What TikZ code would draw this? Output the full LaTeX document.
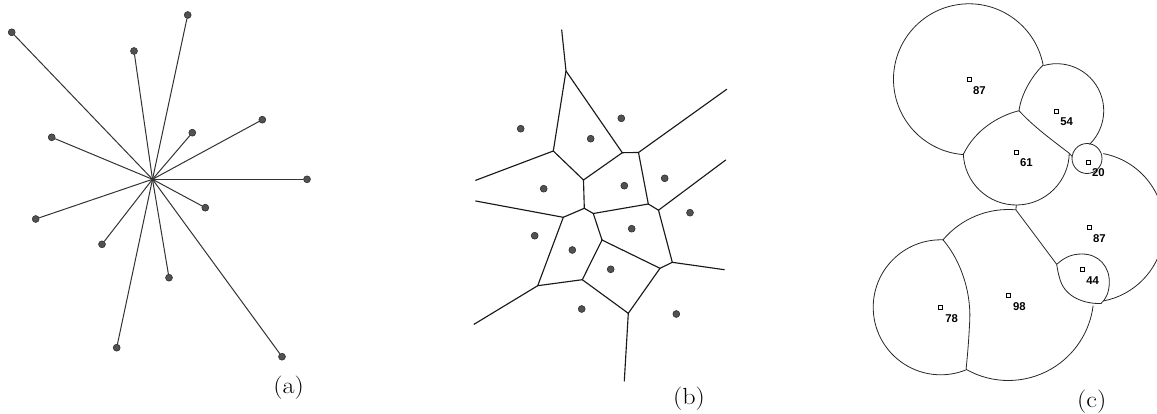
\documentclass[tikz,border=0pt]{standalone}
\usepackage{fontspec}
\usepackage{graphicx}
\newfontfamily\numfont{Liberation Sans}
\usetikzlibrary{calc}
\begin{document}
\begin{tikzpicture}[x=0.75pt,y=-0.75pt,
  spoke/.style={draw=black!80, line width=0.75pt},
  edge/.style={draw=black!90, line width=0.85pt, line cap=round},
  dot/.style={circle, fill=black!68, draw=black!85, line width=0.4pt, minimum size=5.2pt, inner sep=0pt},
  cell/.style={draw=black!85, line width=0.6pt},
  marker/.style={rectangle, draw=black, line width=0.45pt, fill=white, minimum size=3pt, inner sep=0pt},
  num/.style={font=\numfont\bfseries\fontsize{8.5}{10}\selectfont, inner sep=0pt},
  caption/.style={font=\fontsize{17.5}{20}\selectfont, inner sep=0pt}]
\useasboundingbox (0,0) rectangle (1157,414);
\clip (0,0) rectangle (1157,414);

% ---------------- (a) star ----------------
\coordinate (a0) at (152.5,179.3);
\foreach \n/\x/\y in {1/11.7/32.3, 2/187.7/15, 3/134/51, 4/51.7/137.3, 5/192.3/132.7,
  6/262.3/119.7, 7/307/179.3, 8/205.3/207.7, 9/35.7/219, 10/102/244.3,
  11/169/277.7, 12/116.7/347.7, 13/282/356.7}
{
  \node[dot] (a\n) at (\x,\y) {};
  \draw[spoke] (a0) -- (a\n);
}
\node[caption] (capa) at (288.7,388) {\scalebox{1.12}[1]{(a)}};

% ---------------- (b) Voronoi ----------------
\foreach \n/\x/\y in {A/566/71, T/561.7/30, B/553.3/151, C/622.3/152.7, D/638.5/152.5,
  RD/726.7/89.3, RB/475.7/180.3, E/583.5/180, F/584.3/208.3, J/563.3/217.3,
  RJ/475.7/201, I/593.3/213.5, G/648.3/204, H/658.5/210.2, RH/725.7/160,
  K/602/240, L/672.3/262.3, RL/724.3/269.7, M/660/268.3, N/628.3/313.3,
  RN/624.3/381, O/582.3/279.7, P/537.7/285.7, RP/474/324.3}
  \coordinate (v\n) at (\x,\y);
\foreach \u/\v in {T/A, A/B, A/C, C/D, D/RD, B/RB, B/E, E/C, E/F, F/J, J/RJ, F/I,
  I/G, G/D, G/H, H/RH, I/K, H/L, L/RL, L/M, M/K, M/N, N/RN, N/O, O/K, O/P, P/RP, P/J}
  \draw[edge] (v\u) -- (v\v);
\foreach \n/\x/\y in {1/520.7/128.7, 2/590.7/138.7, 3/621.3/118.3, 4/543.7/188.7,
  5/624.3/185.7, 6/664.7/178.3, 7/690/212.7, 8/534.7/235.7, 9/631.7/228.7,
  10/572.3/250, 11/610.7/269.3, 12/581.7/309, 13/676.3/314}
  \node[dot] (b\n) at (\x,\y) {};
\node[caption] (capb) at (689,399) {\scalebox{1.12}[1]{(b)}};

% ---------------- (c) weighted cells ----------------
\coordinate (cA) at (969,79.3);
\coordinate (cB) at (1056.7,110.7);
\coordinate (cC) at (1016.3,152);
\coordinate (cD) at (1087,158.5);
\coordinate (cE) at (1089.3,227.3);
\coordinate (cG) at (1008.3,295);
\coordinate (cH) at (940.7,307.3);
\coordinate (jABC) at (1019,110.7);

% 87 (top)
\draw[cell] ($(cA)+(-10.9:75.5)$) coordinate (jAB)
  arc[start angle=-10.9, end angle=-265.6, radius=75.5] coordinate (jAC);
% 54
\draw[cell] ($(cB)+(-106.3:47)$) arc[start angle=-106.3, end angle=45.8, radius=47];
% 61
\draw[cell] ($(cC)+(178.6:53)$) arc[start angle=178.6, end angle=1.4, radius=53] coordinate (jCD);
% inner boundaries 87/54/61
\draw[cell] (jAB) .. controls (1031,77) and (1021,95) .. (jABC);
\draw[cell] (jABC) .. controls (998,116) and (975,130) .. (jAC);
\draw[cell] (jABC) .. controls (1034,127) and (1052,140) .. (jCD);
% 20
\draw[cell] (cD) circle[radius=15];
\draw[cell] (jCD) -- ($(cD)+(-172:15)$);
% 87 (right)
\draw[cell] ($(cE)+(-79.3:75)$) arc[start angle=-79.3, end angle=79.1, radius=75];
% 61 / 98 / 87 junction line
\draw[cell] ($(cC)+(90:53)$) -- ($(cG)+(-84.9:85.5)$) coordinate (jGE) -- (1056.7,264.3);
% 98
\draw[cell] (jGE) arc[start angle=-84.9, end angle=-139.8, radius=85.5] coordinate (jGHt);
\draw[cell] ($(cG)+(119.6:85.5)$) coordinate (jGHb) arc[start angle=119.6, end angle=7.2, radius=85.5];
% 78
\draw[cell] ($(cH)+(-87.8:67.5)$) arc[start angle=-87.8, end angle=-291.7, radius=67.5];
\draw[cell] (jGHt) .. controls (962,262) and (972,295) .. (969.5,325) .. controls (968.5,345) and (967,360) .. (jGHb);
% 44
\draw[cell] (1056.7,264.3) .. controls (1065,257) and (1072,254) .. (1082,254)
  .. controls (1099,254) and (1110,267) .. (1109.3,283.3)
  .. controls (1109,293) and (1105.5,299.5) .. (1101,303.5)
  .. controls (1084,304) and (1066,297) .. (1060.5,281)
  .. controls (1058.5,275) and (1057.3,269) .. cycle;

% markers and numbers
\foreach \n/\mx/\my/\lx/\ly/\t in {1/969/79.3/979.3/90.7/87, 2/1056.3/110.8/1066.7/121.7/54,
  3/1016.5/151.8/1026.4/163/61, 4/1088.3/162/1098.3/172.7/20,
  5/1089.3/227.3/1099.3/238.3/87, 6/1082.3/269.5/1092.7/281/44,
  7/1008.3/295/1019.3/306.7/98, 8/940.7/307/951.7/318.3/78}
{
  \node[marker] (m\n) at (\mx,\my) {};
  \node[num] (l\n) at (\lx,\ly) {\t};
}
\node[caption] (capc) at (1091.7,402) {\scalebox{1.12}[1]{(c)}};
\end{tikzpicture}
\end{document}
